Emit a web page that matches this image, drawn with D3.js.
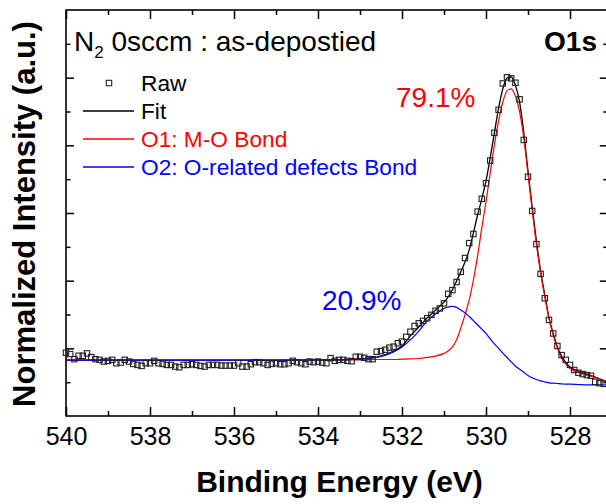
<!DOCTYPE html>
<html><head><meta charset="utf-8">
<script src="https://cdn.jsdelivr.net/npm/d3@7"></script>
<style>
body{margin:0;background:#fff}
svg{display:block}
text{font-family:Arial,"Liberation Sans",sans-serif}
</style>
</head><body>
<svg id="c" width="606" height="504"></svg>
<script>
// ---- data ----
const rawEnergy = [540.0,539.9,539.8,539.7,539.6,539.5,539.4,539.3,539.2,539.1,
539.0,538.9,538.8,538.7,538.6,538.5,538.4,538.3,538.2,538.1,
538.0,537.9,537.8,537.7,537.6,537.5,537.4,537.3,537.2,537.1,
537.0,536.9,536.8,536.7,536.6,536.5,536.4,536.3,536.2,536.1,
536.0,535.9,535.8,535.7,535.6,535.5,535.4,535.3,535.2,535.1,
535.0,534.9,534.8,534.7,534.6,534.5,534.4,534.3,534.2,534.1,
534.0,533.9,533.8,533.7,533.6,533.5,533.4,533.3,533.2,533.1,
533.0,532.9,532.8,532.7,532.6,532.5,532.4,532.3,532.2,532.1,
532.0,531.9,531.8,531.7,531.6,531.5,531.4,531.3,531.2,531.1,
531.0,530.9,530.8,530.7,530.6,530.5,530.4,530.3,530.2,530.1,
530.0,529.9,529.8,529.7,529.6,529.5,529.4,529.3,529.2,529.1,
529.0,528.9,528.8,528.7,528.6,528.5,528.4,528.3,528.2,528.1,
528.0,527.9,527.8,527.7,527.6,527.5,527.4,527.3,527.2];
const rawValues = [0.187,0.183,0.168,0.178,0.178,0.185,0.174,0.168,0.166,0.161,
0.163,0.166,0.156,0.158,0.166,0.161,0.154,0.151,0.148,0.156,
0.156,0.163,0.156,0.154,0.151,0.151,0.146,0.144,0.151,0.151,
0.153,0.151,0.148,0.146,0.151,0.151,0.151,0.149,0.149,0.149,
0.149,0.156,0.146,0.146,0.153,0.159,0.159,0.156,0.151,0.154,
0.156,0.153,0.153,0.156,0.163,0.159,0.156,0.153,0.161,0.159,
0.161,0.158,0.156,0.171,0.163,0.166,0.166,0.163,0.162,0.175,
0.175,0.172,0.168,0.168,0.190,0.192,0.196,0.202,0.205,0.215,
0.220,0.234,0.249,0.266,0.274,0.281,0.289,0.299,0.311,0.318,
0.333,0.361,0.372,0.396,0.426,0.467,0.511,0.538,0.604,0.642,
0.688,0.755,0.837,0.905,0.983,1.001,0.998,0.985,0.936,0.816,
0.707,0.606,0.508,0.420,0.348,0.284,0.244,0.207,0.180,0.166,
0.151,0.136,0.128,0.124,0.121,0.119,0.101,0.097,0.095];

const curveEnergy = [540,537,535,533.5,533,532.6,532.2,532.0,531.8,531.6,
531.4,531.2,531.0,530.9,530.8,530.7,530.6,530.5,530.4,530.3,
530.2,530.1,530.0,529.9,529.8,529.7,529.6,529.5,529.4,529.3,
529.2,529.1,529.0,528.9,528.8,528.7,528.6,528.5,528.4,528.3,
528.2,528.1,528.0,527.8,527.6,527.4,527.2,527.1];
const fitValues = [0.165,0.165,0.165,0.166,0.169,0.174,0.192,0.207,0.237,0.263,
0.290,0.313,0.337,0.352,0.373,0.399,0.426,0.455,0.491,0.541,
0.594,0.642,0.695,0.763,0.837,0.910,0.967,0.999,1.002,0.978,
0.928,0.837,0.724,0.618,0.517,0.429,0.358,0.291,0.244,0.205,
0.177,0.158,0.145,0.132,0.124,0.115,0.105,0.102];
const o1Values = [0.165,0.165,0.165,0.166,0.166,0.167,0.167,0.168,0.169,0.170,
0.173,0.177,0.185,0.192,0.204,0.225,0.260,0.299,0.343,0.402,
0.473,0.556,0.633,0.718,0.801,0.872,0.928,0.961,0.967,0.946,
0.899,0.822,0.715,0.609,0.508,0.423,0.352,0.287,0.239,0.201,
0.171,0.154,0.140,0.129,0.121,0.114,0.105,0.102];
const o2Values = [0.165,0.165,0.165,0.166,0.169,0.173,0.189,0.204,0.225,0.251,
0.281,0.302,0.318,0.322,0.324,0.321,0.313,0.305,0.294,0.282,
0.269,0.257,0.244,0.228,0.213,0.200,0.186,0.173,0.160,0.148,
0.138,0.129,0.120,0.113,0.108,0.104,0.101,0.098,0.097,0.096,
0.095,0.094,0.094,0.093,0.092,0.092,0.092,0.092];

const xMajorTicks = [540,538,536,534,532,530,528];
const xMinorTicks = [539,537,535,533,531,529,527];
const yMajorTicks = [0.2,0.4,0.6,0.8,1.0];
const yMinorTicks = [0.1,0.3,0.5,0.7,0.9,1.1];
const legendLabels = ["Raw","Fit","O1: M-O Bond","O2: O-related defects Bond"];
const seriesColors = {raw:"#000000", fit:"#000000", o1:"#ff0000", o2:"#0000ff"};
const areaLabels = ["79.1%","20.9%"];

// ---- chart ----
const svg = d3.select("#c");
const L = 66, R = 607.8, T = 10, B = 416;
const x = d3.scaleLinear().domain([540, 527.1]).range([L, R]);
const y = d3.scaleLinear().domain([0, 1.2]).range([B, T]);

function styleAxis(g){
  g.select(".domain").remove();
  g.selectAll(".tick line").attr("stroke","#000").attr("stroke-width",1.5);
}
svg.append("g").attr("transform",`translate(0,${B})`)
  .call(d3.axisBottom(x).tickValues(xMajorTicks).tickSize(-9).tickPadding(11).tickFormat(d3.format("d")))
  .call(styleAxis)
  .call(g=>g.selectAll("text").attr("font-size",25).attr("fill","#000").attr("font-family","Arial, 'Liberation Sans', sans-serif"));
svg.append("g").attr("transform",`translate(0,${B})`)
  .call(d3.axisBottom(x).tickValues(xMinorTicks).tickSize(-5).tickFormat(""))
  .call(styleAxis);
svg.append("g").attr("transform",`translate(0,${T})`)
  .call(d3.axisTop(x).tickValues(xMajorTicks).tickSize(-9).tickFormat(""))
  .call(styleAxis);
svg.append("g").attr("transform",`translate(0,${T})`)
  .call(d3.axisTop(x).tickValues(xMinorTicks).tickSize(-5).tickFormat(""))
  .call(styleAxis);
svg.append("g").attr("transform",`translate(${L},0)`)
  .call(d3.axisLeft(y).tickValues(yMajorTicks).tickSize(-8).tickFormat(""))
  .call(styleAxis);
svg.append("g").attr("transform",`translate(${L},0)`)
  .call(d3.axisLeft(y).tickValues(yMinorTicks).tickSize(-4.5).tickFormat(""))
  .call(styleAxis);
svg.append("g").attr("transform",`translate(${R},0)`)
  .call(d3.axisRight(y).tickValues(yMajorTicks).tickSize(-8).tickFormat(""))
  .call(styleAxis);
svg.append("g").attr("transform",`translate(${R},0)`)
  .call(d3.axisRight(y).tickValues(yMinorTicks).tickSize(-4.5).tickFormat(""))
  .call(styleAxis);

svg.append("rect").attr("x",L).attr("y",T).attr("width",R-L).attr("height",B-T)
  .attr("fill","none").attr("stroke","#000").attr("stroke-width",1.6);

const line = d3.line().x(d=>x(d[0])).y(d=>y(d[1])).curve(d3.curveMonotoneX);
function drawCurve(vals, color, w){
  svg.append("path").datum(curveEnergy.map((e,i)=>[e,vals[i]]))
    .attr("d", line).attr("fill","none").attr("stroke",color).attr("stroke-width",w);
}
drawCurve(fitValues, seriesColors.fit, 1.3);
drawCurve(o1Values, seriesColors.o1, 1.2);
drawCurve(o2Values, seriesColors.o2, 1.2);

const s = 5.4;
svg.append("g").selectAll("rect").data(rawEnergy.map((e,i)=>[e,rawValues[i]]))
  .join("rect")
  .attr("x",d=>x(d[0])-s/2).attr("y",d=>y(d[1])-s/2)
  .attr("width",s).attr("height",s)
  .attr("fill","none").attr("stroke","#222").attr("stroke-width",1.1);

const title = svg.append("text").attr("x",74).attr("y",51).attr("font-size",28).attr("fill","#000");
title.append("tspan").text("N");
title.append("tspan").attr("font-size",17).attr("dy",7).text("2");
title.append("tspan").attr("dy",-7).text(" 0sccm : as-depostied");
svg.append("text").attr("x",597).attr("y",51).attr("text-anchor","end")
  .attr("font-size",28).attr("font-weight","bold").attr("fill","#000").text("O1s");

const lg = svg.append("g");
const rowY = [83, 111, 139, 167];
lg.append("rect").attr("x",109-s/2).attr("y",rowY[0]-s/2).attr("width",s).attr("height",s)
  .attr("fill","none").attr("stroke","#222").attr("stroke-width",1.1);
const legColors = [seriesColors.raw, seriesColors.fit, seriesColors.o1, seriesColors.o2];
legendLabels.forEach((t,i)=>{
  if(i>0){
    lg.append("line").attr("x1",83).attr("x2",134).attr("y1",rowY[i]).attr("y2",rowY[i])
      .attr("stroke",legColors[i]).attr("stroke-width",1.3);
  }
  lg.append("text").attr("x",141).attr("y",rowY[i]+8).attr("font-size",22.7)
    .attr("fill", i<2 ? "#000" : legColors[i]).text(t);
});

svg.append("text").attr("x",396).attr("y",107).attr("font-size",28).attr("fill","#ff0000").text(areaLabels[0]);
svg.append("text").attr("x",322).attr("y",310).attr("font-size",28).attr("fill","#0000ff").text(areaLabels[1]);

svg.append("text").attr("x",339.5).attr("y",492).attr("text-anchor","middle")
  .attr("font-size",30).attr("font-weight","bold").attr("fill","#000").text("Binding Energy (eV)");
svg.append("text").attr("transform","translate(35,214) rotate(-90)").attr("text-anchor","middle")
  .attr("font-size",31).attr("font-weight","bold").attr("fill","#000").text("Normalized Intensity (a.u.)");
</script>
</body></html>
